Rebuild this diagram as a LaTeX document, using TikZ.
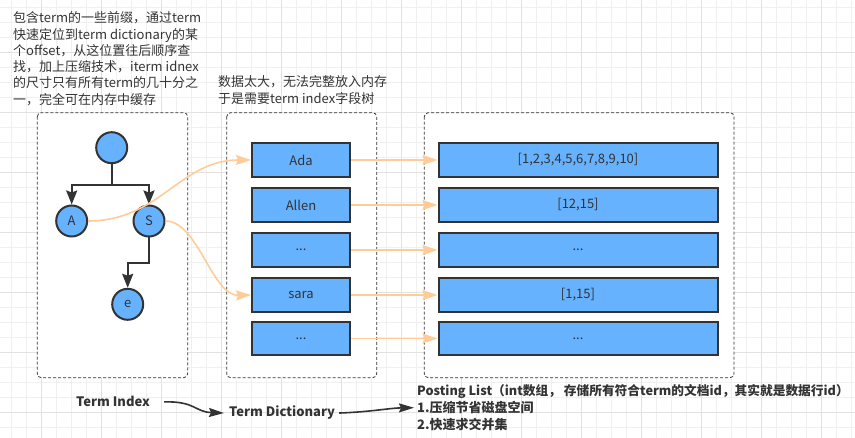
\documentclass[tikz,border=0pt]{standalone}
\usepackage{fontspec}
\setmainfont{Noto Sans CJK SC}
\usetikzlibrary{arrows.meta}

\definecolor{nodeblue}{HTML}{66B2FF}
\definecolor{inkgray}{HTML}{333333}
\definecolor{linkorange}{HTML}{FFCC99}
\definecolor{gridminor}{HTML}{F0F0F0}
\definecolor{gridmajor}{HTML}{E2E2E2}
\newcommand\moredots{...}

\begin{document}
\begin{tikzpicture}[x=1pt, y=-1pt,
  font=\fontsize{13}{16.3}\selectfont, text=inkgray,
  panel/.style={draw=inkgray, line width=0.8pt, dash pattern=on 3pt off 2pt, fill=white, rounded corners=4pt},
  treenode/.style={circle, draw=inkgray, line width=2pt, fill=nodeblue, minimum size=31pt, inner sep=0pt},
  dictbox/.style={rectangle, draw=inkgray, line width=2pt, fill=nodeblue, minimum width=98pt, minimum height=33.3pt, inner sep=0pt},
  postbox/.style={dictbox, minimum width=279pt},
  treearrow/.style={draw=inkgray, line width=2pt, -{Stealth[length=14pt, width=11pt, inset=2pt]}},
  link/.style={draw=linkorange, line width=1.6pt, -{Stealth[length=15pt, width=10pt, inset=2pt]}},
  flow/.style={draw=inkgray, line width=1.6pt, -{Stealth[length=15pt, width=9pt, inset=2pt]}},
  note/.style={align=left, inner sep=0pt, anchor=north west},
  caption/.style={font=\fontsize{13}{16.3}\selectfont\bfseries, inner sep=0pt, anchor=base west}]
\useasboundingbox (0,0) rectangle (855,438);

% grid
\foreach \gx in {11.7,26.7,...,855} \draw[gridminor, line width=1pt] (\gx,0) -- (\gx,438);
\foreach \gy in {7.3,22.3,...,438} \draw[gridminor, line width=1pt] (0,\gy) -- (855,\gy);
\foreach \gx in {41.7,101.7,...,855} \draw[gridmajor, line width=1pt] (\gx,0) -- (\gx,438);
\foreach \gy in {52.3,112.3,...,438} \draw[gridmajor, line width=1pt] (0,\gy) -- (855,\gy);

% notes
\node[note] (prefixNote) at (13,11.6) {包含term的一些前缀，通过term\\快速定位到term dictionary的某\\个offset，从这位置往后顺序查\\找，加上压缩技术，iterm idnex\\的尺寸只有所有term的几十分之\\一，完全可在内存中缓存};
\node[note] (sizeNote) at (218,75.6) {数据太大，无法完整放入内存\\于是需要term index字段树};

% panels
\draw[panel] (37.3,112.7) rectangle (187.7,377.7);
\draw[panel] (226.7,112.7) rectangle (376.7,377.7);
\draw[panel] (424.3,112.7) rectangle (734,377.7);

% term index tree
\node[treenode] (root) at (111.7,147.7) {};
\node[treenode] (A) at (71.7,221) {A};
\node[treenode] (S) at (149,221) {S};
\node[treenode] (e) at (127.7,304.3) {e};
\draw[treearrow] (root.south) -- ++(0,21) -| (A.north);
\draw[treearrow] (root.south) -- ++(0,21) -| (S.north);
\draw[treearrow] (S.south) -- ++(0,26) -| (e.north);

% dictionary and posting lists
\foreach \y/\name/\dtext/\ptext in {160/ada/Ada/{[1,2,3,4,5,6,7,8,9,10]}, 205/allen/Allen/{[12,15]}, 250/more/\moredots/\moredots, 295/sara/sara/{[1,15]}, 338.5/rest/\moredots/\moredots} {
  \node[dictbox] (dict\name) at (301,\y) {\dtext};
  \node[postbox] (post\name) at (578,\y) {\ptext};
  \draw[link] (dict\name.east) -- (post\name.west);
}
\draw[link] (A.east) .. controls (160,221) and (180,160) .. (dictada.west);
\draw[link] (S.east) .. controls (198,221) and (212,296) .. (dictsara.west);

% captions
\node[caption] (idxLbl) at (76,407) {Term Index};
\node[caption] (dictLbl) at (229,417) {Term Dictionary};
\node[caption, font=\fontsize{12.7}{16.3}\selectfont\bfseries] (postTitle) at (417,396) {Posting List（int数组， 存储所有符合term的文档id，其实就是数据行id）};
\node[caption] (postItemA) at (417,412.7) {1.压缩节省磁盘空间};
\node[caption] (postItemB) at (417,429.4) {2.快速求交并集};
\draw[flow] ([xshift=14pt]idxLbl.east) .. controls (195,401) and (195,412) .. ([xshift=-5pt]dictLbl.west);
\draw[flow] ([xshift=4pt]dictLbl.east) .. controls (370,412) and (390,408) .. ([xshift=-3pt]postItemA.west);
\end{tikzpicture}
\end{document}
